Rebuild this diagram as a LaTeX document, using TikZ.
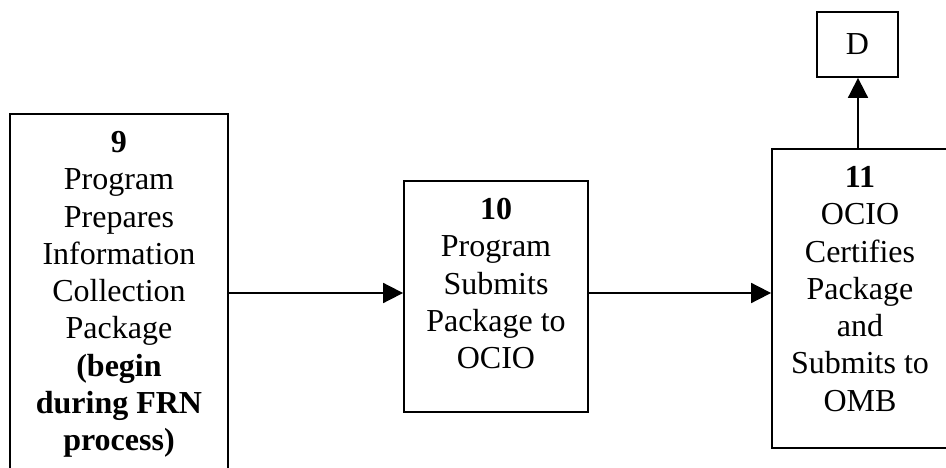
\documentclass[tikz,border=0pt]{standalone}
\usepackage{fontspec}
\setmainfont{Liberation Serif}
\usetikzlibrary{arrows.meta}

\tikzset{
  stepbox/.style={draw, line width=1.8pt, rectangle, inner sep=0pt},
  steptext/.style={anchor=north, align=center, inner sep=0pt,
    font=\fontsize{32}{37.3}\selectfont},
  flow/.style={line width=1.8pt, -{Triangle[length=20pt,width=20pt]}}
}

\begin{document}
\begin{tikzpicture}[x=1pt, y=-1pt]
  \useasboundingbox (0,0) rectangle (946,468);
  \fill[white] (0,0) rectangle (946,468);
  \clip (0,0) rectangle (946,468);

  % process boxes (box 9 and box 11 run past the page edge)
  \node[stepbox, minimum width=218pt, minimum height=376pt] (b9)  at (119,302)   {};
  \node[stepbox, minimum width=184pt, minimum height=231pt] (b10) at (496,296.5) {};
  \node[stepbox, minimum width=176pt, minimum height=299pt] (b11) at (860,298.5) {};
  \node[stepbox, minimum width=81pt,  minimum height=65pt, font=\fontsize{32}{37.3}\selectfont] (d) at (857.5,44.5) {D};

  % box labels
  \node[steptext] (t9) at ([yshift=-18pt]b9.north)
    {\textbf{9}\\Program\\Prepares\\Information\\Collection\\Package\\\textbf{(begin}\\\textbf{during FRN}\\\textbf{process)}};
  \node[steptext] (t10) at ([yshift=-18pt]b10.north)
    {\textbf{10}\\Program\\Submits\\Package to\\OCIO};
  \node[steptext] (t11) at ([yshift=-18pt]b11.north)
    {\textbf{11}\\OCIO\\Certifies\\Package\\and\\Submits to\\OMB};

  % connectors
  \coordinate (row) at (0,293);
  \coordinate (up) at (858,0);
  \draw[flow] (b9.east |- row) -- (b10.west |- row);
  \draw[flow] (b10.east |- row) -- (b11.west |- row);
  \draw[flow] (up |- b11.north) -- (up |- d.south);
\end{tikzpicture}
\end{document}
